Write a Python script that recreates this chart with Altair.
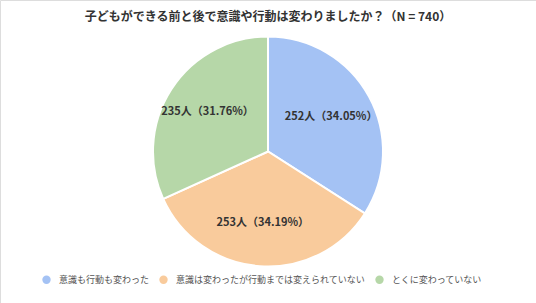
import altair as alt
import pandas as pd

categories = ["意識も行動も変わった", "意識は変わったが行動までは変えられていない", "とくに変わっていない"]
counts = [252, 253, 235]
percents = ["34.05%", "34.19%", "31.76%"]
colors = ["#a4c2f4", "#f9cb9c", "#b6d7a8"]
title_text = "子どもができる前と後で意識や行動は変わりましたか？（N = 740）"

df = pd.DataFrame({
    "category": categories,
    "count": counts,
    "order": list(range(len(categories))),
    "label": [f"{c}人（{p}）" for c, p in zip(counts, percents)],
})

FONT = "Noto Sans CJK JP"

base = alt.Chart(df).encode(
    theta=alt.Theta("count:Q", stack=True),
    order=alt.Order("order:Q"),
)

pie = base.mark_arc(outerRadius=115, stroke="white", strokeWidth=2).encode(
    color=alt.Color(
        "category:N",
        scale=alt.Scale(domain=categories, range=colors),
        sort=categories,
        legend=alt.Legend(
            title=None,
            orient="none",
            legendX=42,
            legendY=275,
            direction="horizontal",
            symbolType="circle",
            symbolSize=70,
            symbolStrokeWidth=0,
            labelFont=FONT,
            labelFontSize=9,
            labelColor="#555555",
            labelOffset=8,
            labelLimit=0,
            columnPadding=9,
        ),
    )
)

labels = base.mark_text(
    radius=72, font=FONT, fontSize=11, fontWeight="bold", color="#333333"
).encode(text="label:N")

title = alt.Chart(pd.DataFrame({"t": [title_text]})).mark_text(
    font=FONT, fontSize=12, fontWeight="bold", color="#333333"
).encode(text="t:N", x=alt.value(268), y=alt.value(17))

chart = (
    alt.layer(pie, labels, title)
    .properties(width=536, height=303, padding=0, autosize=alt.AutoSizeParams(type="none"))
    .configure_view(stroke=None)
    .configure(background="white")
)

chart.save("out.html", embed_options={"renderer": "svg", "actions": False})
